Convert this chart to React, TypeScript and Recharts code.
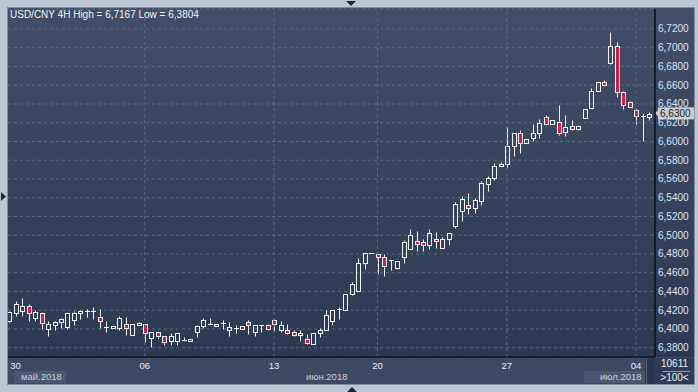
import React from 'react';
import { ComposedChart, Bar, XAxis, YAxis, CartesianGrid, ReferenceLine } from 'recharts';

const opens = [
  6.409, 6.417, 6.419, 6.4245, 6.412, 6.417, 6.4, 6.404, 6.4077, 6.4025,
  6.4095, 6.4165, 6.419, 6.419, 6.413, 6.4025, 6.402, 6.4014, 6.405, 6.394,
  6.405, 6.405, 6.39, 6.397, 6.392, 6.3867, 6.3867, 6.388, 6.3875, 6.3965,
  6.4035, 6.4055, 6.4055, 6.4065, 6.3986, 6.4014, 6.4032, 6.4074, 6.397, 6.4039,
  6.4042, 6.4099, 6.3986, 6.3993, 6.3968, 6.3933, 6.3897, 6.3844, 6.3958, 6.3986,
  6.4081, 6.4216, 6.4205, 6.4375, 6.4404, 6.4707, 6.4806, 6.4799, 6.477, 6.4735,
  6.465, 6.477, 6.4856, 6.4934, 6.4923, 6.4899, 6.4963, 6.4863, 6.4963, 6.5098,
  6.5258, 6.5318, 6.5293, 6.5364, 6.5547, 6.5611, 6.574, 6.5758, 6.5951, 6.6095,
  6.5979, 6.6032, 6.6095, 6.626, 6.6183, 6.6207, 6.6102, 6.6165, 6.6137, 6.625,
  6.6354, 6.6534, 6.6636, 6.6841, 6.7018, 6.653, 6.6417, 6.6336, 6.6269, 6.6258,
];
const highs = [
  6.419, 6.4295, 6.433, 6.427, 6.42, 6.418, 6.4084, 6.408, 6.412, 6.418,
  6.419, 6.42, 6.421, 6.4235, 6.421, 6.408, 6.4035, 6.414, 6.413, 6.405,
  6.407, 6.405, 6.397, 6.397, 6.392, 6.3955, 6.396, 6.3915, 6.3895, 6.404,
  6.412, 6.412, 6.4055, 6.41, 6.4074, 6.4046, 6.4032, 6.4099, 6.4042, 6.4039,
  6.4057, 6.411, 6.408, 6.4057, 6.3993, 6.3993, 6.395, 6.3958, 6.4011, 6.4198,
  6.4205, 6.4234, 6.4375, 6.4499, 6.4753, 6.4806, 6.4806, 6.4799, 6.4795, 6.4735,
  6.472, 6.4945, 6.5069, 6.5044, 6.4956, 6.5069, 6.5034, 6.4984, 6.5027, 6.5354,
  6.5418, 6.5446, 6.54, 6.5578, 6.5628, 6.5768, 6.5786, 6.6154, 6.6095, 6.6119,
  6.6021, 6.6188, 6.6242, 6.6277, 6.6232, 6.6393, 6.6277, 6.6232, 6.6179, 6.6347,
  6.6575, 6.6636, 6.6657, 6.7167, 6.7064, 6.6541, 6.6435, 6.6357, 6.63, 6.6318,
];
const lows = [
  6.407, 6.414, 6.414, 6.409, 6.409, 6.4, 6.393, 6.399, 6.4007, 6.4,
  6.404, 6.4105, 6.413, 6.4105, 6.4014, 6.397, 6.4015, 6.399, 6.3937, 6.394,
  6.404, 6.386, 6.3804, 6.3895, 6.383, 6.383, 6.383, 6.3867, 6.3875, 6.391,
  6.4007, 6.405, 6.4045, 6.3995, 6.3926, 6.3961, 6.4, 6.3947, 6.392, 6.3968,
  6.3993, 6.3975, 6.3968, 6.395, 6.3926, 6.3869, 6.3837, 6.3837, 6.3915, 6.3986,
  6.4046, 6.411, 6.4205, 6.4358, 6.4404, 6.4636, 6.4806, 6.4582, 6.4564, 6.4628,
  6.4642, 6.4707, 6.4856, 6.4831, 6.4831, 6.4849, 6.4867, 6.4863, 6.4899, 6.508,
  6.5151, 6.5222, 6.524, 6.5318, 6.547, 6.5593, 6.574, 6.5733, 6.5846, 6.5881,
  6.5979, 6.6, 6.6032, 6.6172, 6.6183, 6.6067, 6.6056, 6.6119, 6.6119, 6.625,
  6.6354, 6.6534, 6.66, 6.683, 6.6477, 6.6346, 6.6364, 6.6187, 6.6003, 6.6233,
];
const closes = [
  6.418, 6.427, 6.4245, 6.417, 6.418, 6.4067, 6.405, 6.407, 6.4105, 6.4165,
  6.4165, 6.419, 6.419, 6.419, 6.4088, 6.4025, 6.403, 6.412, 6.4014, 6.405,
  6.406, 6.396, 6.397, 6.392, 6.386, 6.393, 6.3955, 6.388, 6.3895, 6.4035,
  6.41, 6.4055, 6.4045, 6.4065, 6.4021, 6.4014, 6.4, 6.4039, 6.4042, 6.4039,
  6.3996, 6.405, 6.4042, 6.3958, 6.3933, 6.3958, 6.3851, 6.3958, 6.3993, 6.4145,
  6.4205, 6.4216, 6.4375, 6.4481, 6.4707, 6.4806, 6.4806, 6.4767, 6.467, 6.4735,
  6.472, 6.4927, 6.4998, 6.4909, 6.4899, 6.5027, 6.4934, 6.4963, 6.5027, 6.5329,
  6.5382, 6.529, 6.5372, 6.5553, 6.5611, 6.574, 6.5758, 6.5951, 6.6095, 6.5979,
  6.6021, 6.6095, 6.62, 6.619, 6.6232, 6.6095, 6.6154, 6.6137, 6.6165, 6.6347,
  6.6537, 6.6636, 6.66, 6.7018, 6.6523, 6.6392, 6.6364, 6.6269, 6.6269, 6.6293,
];

const dayTickIndex = [1, 21, 41, 57, 77, 97];
const dayTickLabels = ['30', '06', '13', '20', '27', '04'];
const weekGridIndex = [21, 41, 57, 77, 97];
const priceTicks = [
  6.38, 6.4, 6.42, 6.44, 6.46, 6.48, 6.5, 6.52, 6.54, 6.56,
  6.58, 6.6, 6.62, 6.64, 6.66, 6.68, 6.7, 6.72,
];
const monthLabels = ['май.2018', 'июн.2018', 'июл.2018'];
const lastPrice = 6.63;
const titleText = 'USD/CNY 4H High = 6,7167 Low = 6,3804';
const countText = '10611';
const scaleText = '>100<';

const Y_MIN = 6.3701;
const Y_MAX = 6.7413;
const X_MIN = -0.1547;
const X_MAX = 99.93;

const data = opens.map((o, i) => ({
  i,
  open: o,
  high: highs[i],
  low: lows[i],
  close: closes[i],
  range: [Y_MIN, highs[i]],
}));

const FONT = '"Liberation Sans", Arial, sans-serif';
const RED = '#E3173E';
const WHITE = '#F4F6FA';

const fmt = (v: number) => v.toFixed(4).replace('.', ',');

const Candle = (props: any) => {
  const { x, y, width, height, payload } = props;
  if (!payload || height == null) return null;
  const { open, close, high, low } = payload;
  const k = height / (high - Y_MIN);
  const py = (v: number) => y + (high - v) * k;
  const cx = Math.round(x + width / 2) + 0.5;
  const yHigh = Math.round(py(high)) + 0.5;
  const yLow = Math.round(py(low)) + 0.5;
  const top = Math.round(py(Math.max(open, close))) + 0.5;
  const bot = Math.round(py(Math.min(open, close))) + 0.5;
  const bear = close < open;
  const flat = Math.abs(close - open) < 0.0004;
  if (flat && !bear) {
    return (
      <g>
        {yLow > yHigh && <line x1={cx} x2={cx} y1={yHigh} y2={yLow} stroke={WHITE} strokeWidth={1} />}
        <line x1={cx - 2.5} x2={cx + 2.5} y1={top} y2={top} stroke={WHITE} strokeWidth={1} />
      </g>
    );
  }
  const b = Math.max(bot, top + 2);
  return (
    <g>
      {top > yHigh && <line x1={cx} x2={cx} y1={yHigh} y2={top} stroke={WHITE} strokeWidth={1} />}
      {yLow > b && <line x1={cx} x2={cx} y1={b} y2={yLow} stroke={WHITE} strokeWidth={1} />}
      <rect x={cx - 2} y={top} width={4} height={b - top} fill={bear ? RED : 'none'} stroke={WHITE} strokeWidth={1} />
    </g>
  );
};

const XTick = (props: any) => {
  const { x, y, payload } = props;
  const k = dayTickIndex.indexOf(payload.value);
  return (
    <text x={x} y={y + 9.5} textAnchor="middle" fill="#E8EEF7" fontSize={9.5} fontFamily={FONT}>
      {k >= 0 ? dayTickLabels[k] : ''}
    </text>
  );
};

const YTick = (props: any) => {
  const { x, y, payload } = props;
  return (
    <text x={x} y={y + 3.5} textAnchor="start" fill="#DCE6F4" fontSize={10} fontFamily={FONT}>
      {fmt(payload.value)}
    </text>
  );
};

const PriceLabel = (props: any) => {
  const vb = props.viewBox || {};
  const x0 = (vb.x || 0) + (vb.width || 0);
  const yc = vb.y || 0;
  return (
    <g>
      <polygon points={`${x0},${yc} ${x0 + 3},${yc - 3} ${x0 + 3},${yc + 3}`} fill="#C9CDD4" />
      <rect x={x0 + 3} y={yc - 6} width={36} height={12} fill="#C9CDD4" />
      <text x={x0 + 5} y={yc + 3.5} fill="#1A1F28" fontSize={10} fontFamily={FONT}>
        {fmt(lastPrice)}
      </text>
    </g>
  );
};

export default function App() {
  return (
    <div style={{ position: 'absolute', left: 0, top: 0, width: 698, height: 392, background: '#BCC7D5', overflow: 'hidden', fontFamily: FONT }}>
      {/* panel backgrounds */}
      <div style={{ position: 'absolute', left: 7, top: 7, width: 688, height: 378, background: '#7F8CA0' }} />
      <div style={{ position: 'absolute', left: 8, top: 8, width: 686, height: 349, background: 'linear-gradient(to bottom, #414E68, #2C3953)' }} />
      <div style={{ position: 'absolute', left: 8, top: 357, width: 686, height: 27, background: '#3D4A64' }} />
      <div style={{ position: 'absolute', left: 14, top: 371, width: 52, height: 12, background: '#4A5771' }} />
      <div style={{ position: 'absolute', left: 584, top: 371, width: 61, height: 12, background: '#4A5771' }} />
      <div style={{ position: 'absolute', left: 645, top: 358, width: 10, height: 26, background: '#2A3650' }} />
      <div style={{ position: 'absolute', left: 646, top: 358, width: 1, height: 26, background: '#56637C' }} />
      <div style={{ position: 'absolute', left: 655, top: 358, width: 39, height: 26, background: '#2E3B55' }} />

      <div style={{ position: 'absolute', left: 0, top: 0 }}>
        <ComposedChart width={698} height={392} data={data} margin={{ top: 9, right: 4, bottom: 8, left: 8 }}>
          <CartesianGrid vertical={false} stroke="#5A6983" strokeDasharray="3 3" />
          {weekGridIndex.map((g) => (
            <ReferenceLine key={g} x={g} stroke="#5A6983" strokeDasharray="3 3" />
          ))}
          <XAxis
            dataKey="i"
            type="number"
            domain={[X_MIN, X_MAX]}
            allowDataOverflow
            ticks={dayTickIndex}
            interval={0}
            height={27}
            tickSize={0}
            tickMargin={2}
            tick={<XTick />}
            axisLine={{ stroke: '#0B0F18', strokeWidth: 1.5 }}
            tickLine={false}
          />
          <YAxis
            orientation="right"
            type="number"
            domain={[Y_MIN, Y_MAX]}
            allowDataOverflow
            ticks={priceTicks}
            interval={0}
            width={39}
            tickSize={0}
            tickMargin={3}
            tick={<YTick />}
            axisLine={{ stroke: '#0B0F18', strokeWidth: 1.5 }}
            tickLine={false}
          />
          <Bar dataKey="range" barSize={5} shape={<Candle />} isAnimationActive={false} />
          <ReferenceLine y={lastPrice} stroke="none" ifOverflow="visible" label={<PriceLabel />} />
        </ComposedChart>
      </div>

      {/* overlays */}
      <div style={{ position: 'absolute', left: 0, top: 0, width: 7, height: 392, background: '#BCC7D5' }} />
      <div style={{ position: 'absolute', left: 7, top: 7, width: 1, height: 378, background: '#7F8CA0' }} />
      <div style={{ position: 'absolute', left: 10, top: 9, fontSize: 10, color: '#EEF2F8', whiteSpace: 'nowrap', lineHeight: '12px' }}>{titleText}</div>
      <div style={{ position: 'absolute', left: 21, top: 371, fontSize: 9.5, color: '#C5CFDD', lineHeight: '12px', whiteSpace: 'nowrap' }}>{monthLabels[0]}</div>
      <div style={{ position: 'absolute', left: 306, top: 371, fontSize: 9.5, color: '#C5CFDD', lineHeight: '12px', whiteSpace: 'nowrap' }}>{monthLabels[1]}</div>
      <div style={{ position: 'absolute', left: 600, top: 371, fontSize: 9.5, color: '#C5CFDD', lineHeight: '12px', whiteSpace: 'nowrap' }}>{monthLabels[2]}</div>
      <div style={{ position: 'absolute', left: 655, top: 358, width: 39, textAlign: 'center', fontSize: 10, color: '#E8EEF7', lineHeight: '12px' }}>{countText}</div>
      <div style={{ position: 'absolute', left: 662, top: 371, width: 28, height: 1, background: '#8F9BB0' }} />
      <div style={{ position: 'absolute', left: 655, top: 372, width: 39, textAlign: 'center', fontSize: 10, color: '#E8EEF7', lineHeight: '12px' }}>{scaleText}</div>
      <svg style={{ position: 'absolute', left: 0, top: 0 }} width={698} height={392}>
        <polygon points="346,1 356,1 351,6" fill="#1E2638" />
        <polygon points="1,192 1,201 6,196.5" fill="#1E2638" />
        <polygon points="347,392 357,392 352,387" fill="#1E2638" />
      </svg>
    </div>
  );
}
